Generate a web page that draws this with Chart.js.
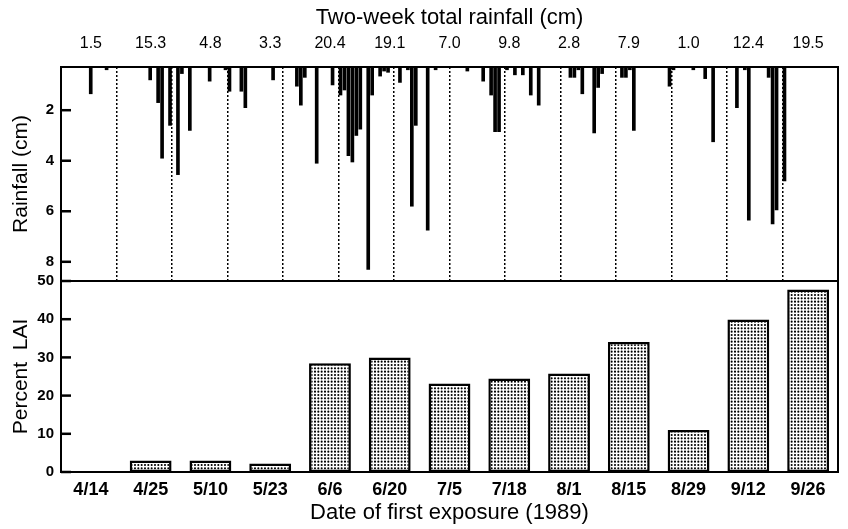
<!DOCTYPE html>
<html>
<head>
<meta charset="utf-8">
<script src="https://cdn.jsdelivr.net/npm/chart.js@4.4.0/dist/chart.umd.min.js"></script>
<style>
  html, body { margin: 0; padding: 0; background: #fff; }
  #wrap { position: relative; width: 848px; height: 529px; }
  #rainChart { position: absolute; left: 0; top: 0; }
  #laiChart { position: absolute; left: 0; top: 270px; }
</style>
</head>
<body>
<div id="wrap">
  <canvas id="rainChart" width="848" height="282"></canvas>
  <canvas id="laiChart" width="848" height="259"></canvas>
</div>
<script>
// two-week periods (date of first exposure)
const dates = ['4/14', '4/25', '5/10', '5/23', '6/6', '6/20', '7/5', '7/18', '8/1', '8/15', '8/29', '9/12', '9/26'];
const totals = ['1.5', '15.3', '4.8', '3.3', '20.4', '19.1', '7.0', '9.8', '2.8', '7.9', '1.0', '12.4', '19.5'];
const laiPct = [0, 3, 3, 2.2, 28.5, 30, 23.2, 24.5, 25.8, 34, 11, 39.9, 47.8];

// daily rainfall (cm), 14 days per period
const rainP1 = [1.35, 0, 0, 0, 0.4, 0, 0, 0, 0, 0, 0, 0, 0, 0];
const rainP2 = [0, 0.8, 0, 1.7, 3.9, 0, 2.6, 0, 4.55, 0.55, 0, 2.8, 0, 0];
const rainP3 = [0, 0, 0.85, 0, 0, 0, 0.4, 1.25, 0, 0, 1.25, 1.9, 0, 0];
const rainP4 = [0, 0, 0, 0, 0.8, 0, 0, 0, 0, 0, 1.05, 1.8, 0.7, 0];
const rainP5 = [0, 4.1, 0, 0, 0, 1.0, 0, 1.4, 1.2, 3.8, 4.05, 3.0, 2.75, 0];
const rainP6 = [8.3, 1.4, 0, 0.65, 0.45, 0.5, 0, 0, 0.9, 0, 0.4, 5.8, 2.6, 0];
const rainP7 = [0, 6.75, 0, 0.4, 0, 0, 0, 0, 0, 0, 0, 0.45, 0, 0];
const rainP8 = [0, 0.85, 0, 1.4, 2.85, 2.85, 0, 0.4, 0, 0.6, 0, 0.6, 0, 1.4];
const rainP9 = [0, 1.8, 0, 0, 0, 0, 0, 0, 0, 0.7, 0.7, 0.4, 1.35, 0];
const rainP10 = [0, 2.9, 1.1, 0.55, 0, 0, 0, 0, 0.7, 0.7, 0.4, 2.8, 0, 0];
const rainP11 = [0, 0, 0, 0, 0, 0, 1.05, 0.4, 0, 0, 0, 0, 0.4, 0];
const rainP12 = [0, 0.75, 0, 3.25, 0, 0, 0, 0, 0, 1.9, 0, 0.4, 6.35, 0];
const rainP13 = [0, 0, 0, 0.7, 6.5, 5.95, 0, 4.8, 0, 0, 0, 0, 0, 0];

const rainTicks = [2, 4, 6, 8];
const laiTicks = [0, 10, 20, 30, 40, 50];

const periods = [rainP1, rainP2, rainP3, rainP4, rainP5, rainP6, rainP7, rainP8, rainP9, rainP10, rainP11, rainP12, rainP13];
const daysPer = 14;

// flatten into {x: day, y: cm}
const rainPoints = [];
periods.forEach((p, i) => {
  p.forEach((v, d) => {
    if (v > 0) rainPoints.push({ x: i * daysPer + d + 0.5, y: v });
  });
});
const dividerDays = [];
for (let i = 0; i <= periods.length; i++) dividerDays.push(i * daysPer);

const FONT = "'Liberation Sans', Arial, Helvetica, sans-serif";
Chart.defaults.color = '#000';
Chart.defaults.font.family = FONT;

// stipple fill for the LAI bars
function makeDots() {
  const c = document.createElement('canvas');
  c.width = 10; c.height = 10;
  const g = c.getContext('2d');
  g.fillStyle = '#fff';
  g.fillRect(0, 0, 10, 10);
  g.fillStyle = '#000';
  for (let i = 0; i < 3; i++) {
    for (let j = 0; j < 3; j++) {
      g.beginPath();
      g.arc(1.67 + i * 3.33, 1.67 + j * 3.33, 1.05, 0, Math.PI * 2);
      g.fill();
    }
  }
  return g.createPattern(c, 'repeat');
}

// fixed axis sizes so both panels line up
function fixWidth(w) {
  return s => { s.width = w; s.paddingTop = 0; s.paddingBottom = 0; };
}
function fixHeight(h) {
  return s => { s.height = h; s.paddingLeft = 0; s.paddingRight = 0; };
}

// box round the plot area + inward ticks on the left axis
const panelFrame = {
  id: 'panelFrame',
  afterDraw(chart) {
    const { ctx, chartArea: a } = chart;
    const ys = chart.scales.y;
    ctx.save();
    ctx.strokeStyle = '#000';
    ctx.lineWidth = 2.5;
    ys.ticks.forEach(t => {
      const py = ys.getPixelForValue(t.value);
      ctx.beginPath();
      ctx.moveTo(a.left, py);
      ctx.lineTo(a.left + 10, py);
      ctx.stroke();
    });
    ctx.lineWidth = 2;
    ctx.strokeRect(a.left, a.top, a.right - a.left, a.bottom - a.top);
    ctx.restore();
  }
};

new Chart(document.getElementById('rainChart'), {
  type: 'bar',
  data: {
    datasets: [{
      data: rainPoints,
      backgroundColor: '#000',
      barThickness: 3,
      xAxisID: 'x',
      yAxisID: 'y'
    }]
  },
  options: {
    responsive: false,
    animation: false,
    layout: { padding: { left: 0, right: 10, top: 0, bottom: 1 } },
    plugins: { legend: { display: false }, tooltip: { enabled: false } },
    scales: {
      x: {
        type: 'linear',
        position: 'bottom',
        min: 0,
        max: periods.length * daysPer,
        afterBuildTicks: s => { s.ticks = dividerDays.map(v => ({ value: v })); },
        ticks: { display: false },
        grid: { color: '#000', lineWidth: 1.5, drawTicks: false },
        border: { display: false, dash: [2, 2] },
        afterFit: fixHeight(0)
      },
      xTop: {
        type: 'category',
        labels: totals,
        position: 'top',
        offset: true,
        grid: { display: false, drawTicks: false },
        border: { display: false },
        ticks: { font: { size: 16 }, padding: 14, maxRotation: 0, autoSkip: false },
        title: {
          display: true,
          text: 'Two-week total rainfall (cm)',
          font: { size: 22 },
          padding: { top: 5, bottom: 0 }
        },
        afterFit: fixHeight(67)
      },
      y: {
        type: 'linear',
        reverse: true,
        min: 0.29,
        max: 8.76,
        afterBuildTicks: s => { s.ticks = rainTicks.map(v => ({ value: v })); },
        grid: { display: false, drawTicks: false },
        border: { display: false },
        ticks: { font: { size: 15, weight: 'bold' }, padding: 7 },
        title: {
          display: true,
          text: 'Rainfall (cm)',
          font: { size: 21 },
          padding: { top: 9, bottom: 0 }
        },
        afterFit: fixWidth(61)
      }
    }
  },
  plugins: [panelFrame]
});

new Chart(document.getElementById('laiChart'), {
  type: 'bar',
  data: {
    labels: dates,
    datasets: [{
      data: laiPct,
      backgroundColor: makeDots(),
      borderColor: '#000',
      borderWidth: 2.5,
      borderSkipped: false,
      barPercentage: 0.7,
      categoryPercentage: 1
    }]
  },
  options: {
    responsive: false,
    animation: false,
    layout: { padding: { left: 0, right: 10, top: 11, bottom: 0 } },
    plugins: { legend: { display: false }, tooltip: { enabled: false } },
    scales: {
      x: {
        grid: { display: false, drawTicks: false },
        border: { display: false },
        ticks: { font: { size: 18, weight: 'bold' }, padding: 7, maxRotation: 0, autoSkip: false },
        title: {
          display: true,
          text: 'Date of first exposure (1989)',
          font: { size: 22 },
          padding: { top: 0, bottom: 3 }
        },
        afterFit: fixHeight(57)
      },
      y: {
        min: 0,
        max: 50,
        afterBuildTicks: s => { s.ticks = laiTicks.map(v => ({ value: v })); },
        grid: { display: false, drawTicks: false },
        border: { display: false },
        ticks: { font: { size: 15, weight: 'bold' }, padding: 7 },
        title: {
          display: true,
          text: 'Percent  LAI',
          font: { size: 21 },
          padding: { top: 9, bottom: 0 }
        },
        afterFit: fixWidth(61)
      }
    }
  },
  plugins: [panelFrame]
});
</script>
</body>
</html>
